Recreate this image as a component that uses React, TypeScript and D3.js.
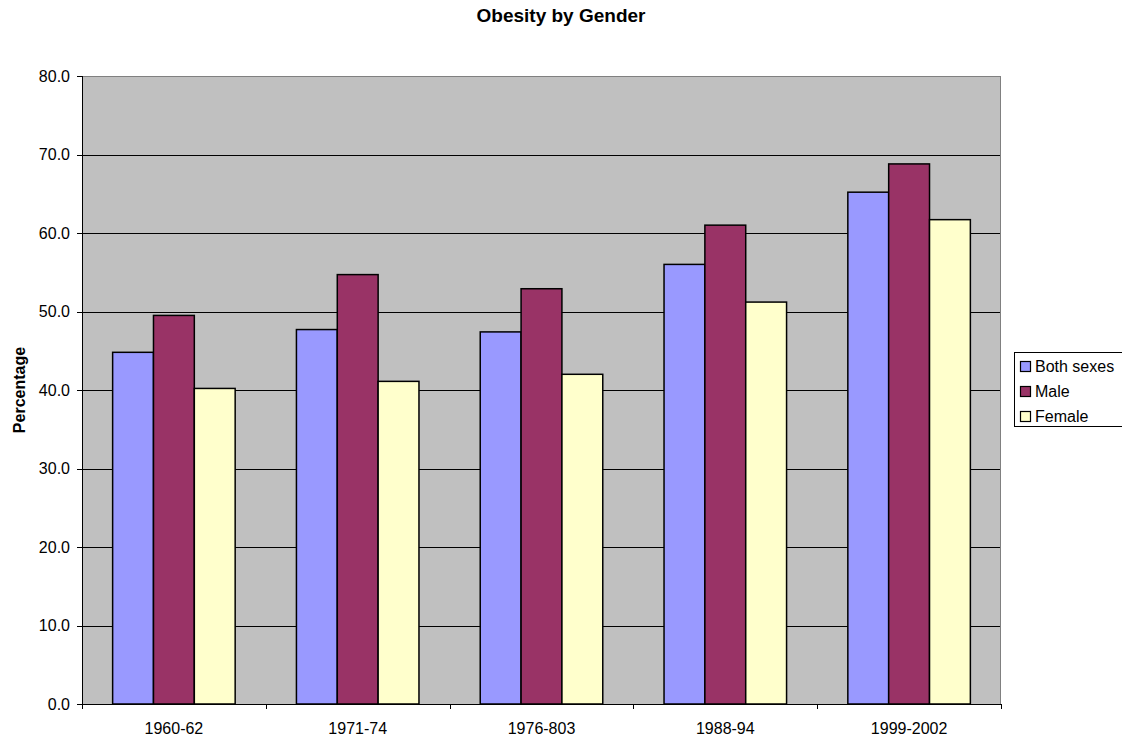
import React from "react";
import * as d3 from "d3";

const categories = ["1960-62", "1971-74", "1976-803", "1988-94", "1999-2002"];
const seriesNames = ["Both sexes", "Male", "Female"];
const bothSexes = [44.8, 47.7, 47.4, 56.0, 65.2];
const male = [49.5, 54.7, 52.9, 61.0, 68.8];
const female = [40.2, 41.1, 42.0, 51.2, 61.7];
const seriesColors = ["#9999FF", "#993366", "#FFFFCC"];
const yTicks = [0, 10, 20, 30, 40, 50, 60, 70, 80];

const W = 1122;
const H = 736;
const left = 82;
const right = 1001;
const top = 76;
const bottom = 704;

export default function App() {
  const series = [bothSexes, male, female];
  const x = d3.scaleBand<string>().domain(categories).range([left, right]).paddingInner(0).paddingOuter(0);
  const step = x.bandwidth();
  const groupW = step / 1.5;
  const x1 = d3.scaleBand<string>().domain(seriesNames).range([0, groupW]);
  const y = d3.scaleLinear().domain([0, 80]).range([bottom, top]);
  const font = "'Liberation Sans', Arial, sans-serif";

  return (
    <svg width={W} height={H} style={{ position: "absolute", left: 0, top: 0, background: "#fff" }} fontFamily={font}>
      <text x={561} y={22} textAnchor="middle" fontWeight="bold" fontSize={19}>Obesity by Gender</text>
      <rect x={left} y={top} width={right - left} height={bottom - top} fill="#C0C0C0" />
      {yTicks.map((t) => (
        <line key={"g" + t} x1={left} x2={right} y1={Math.round(y(t)) + 0.5} y2={Math.round(y(t)) + 0.5}
          stroke={t === 80 ? "#808080" : "#000"} strokeWidth={1} />
      ))}
      <line x1={right - 0.5} x2={right - 0.5} y1={top} y2={bottom} stroke="#808080" />
      {categories.map((c, i) => (
        <g key={c}>
          {series.map((s, j) => {
            const bx = (x(c) as number) + (step - groupW) / 2 + (x1(seriesNames[j]) as number);
            return (
              <rect key={j} x={bx} y={y(s[i])} width={x1.bandwidth()} height={bottom - y(s[i])}
                fill={seriesColors[j]} stroke="#000" strokeWidth={1.5} />
            );
          })}
        </g>
      ))}
      <line x1={left + 0.5} x2={left + 0.5} y1={top} y2={bottom} stroke="#000" />
      <line x1={left} x2={right} y1={bottom + 0.5} y2={bottom + 0.5} stroke="#000" />
      {yTicks.map((t) => (
        <g key={"t" + t}>
          <line x1={left - 5} x2={left} y1={Math.round(y(t)) + 0.5} y2={Math.round(y(t)) + 0.5} stroke="#000" />
          <text x={70} y={y(t)} dy="0.36em" textAnchor="end" fontSize={16}>{t.toFixed(1)}</text>
        </g>
      ))}
      {d3.range(categories.length + 1).map((i) => {
        const tx = Math.round(left + step * i) + 0.5;
        return <line key={"xt" + i} x1={tx} x2={tx} y1={bottom} y2={bottom + 5} stroke="#000" />;
      })}
      {categories.map((c) => (
        <text key={"l" + c} x={(x(c) as number) + step / 2} y={734} textAnchor="middle" fontSize={16}>{c}</text>
      ))}
      <text transform={`translate(25,${(top + bottom) / 2}) rotate(-90)`} textAnchor="middle" fontWeight="bold" fontSize={16}>Percentage</text>
      <rect x={1014.5} y={352.5} width={120} height={74} fill="#fff" stroke="#000" />
      {seriesNames.map((n, j) => (
        <g key={n}>
          <rect x={1020.5} y={361.5 + j * 25} width={10} height={10} fill={seriesColors[j]} stroke="#000" strokeWidth={1.2} />
          <text x={1035} y={372 + j * 25} fontSize={16}>{n}</text>
        </g>
      ))}
    </svg>
  );
}
